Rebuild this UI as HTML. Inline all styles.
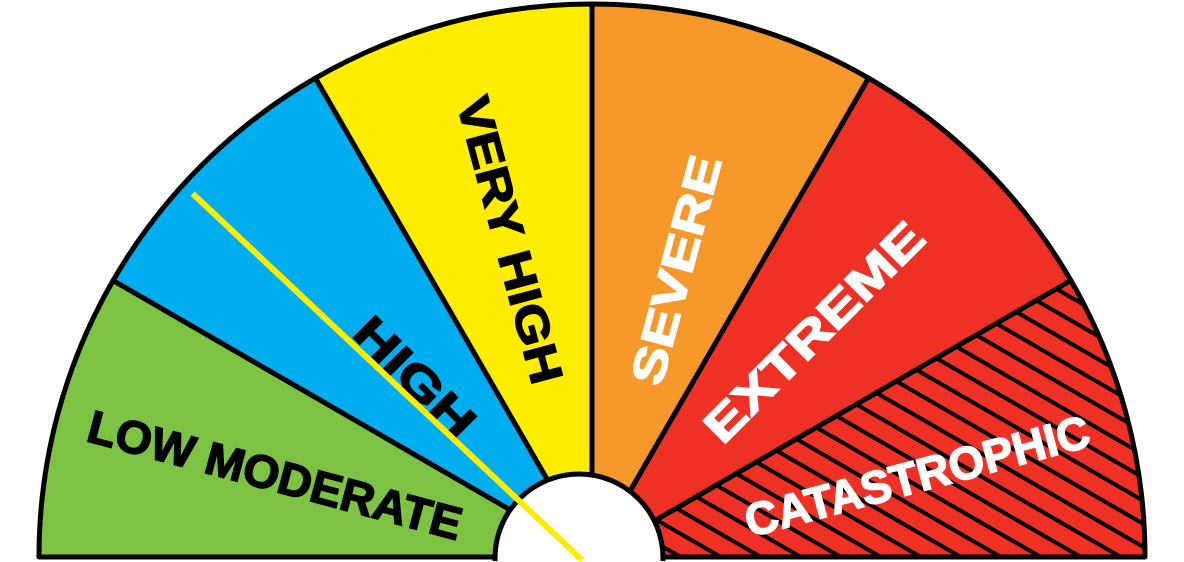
<!DOCTYPE html>
<html><head><meta charset="utf-8"><style>
html,body{margin:0;padding:0;background:#fff;width:1184px;height:562px;overflow:hidden}
svg{display:block}
text{font-family:"Liberation Sans",sans-serif;font-weight:bold}
</style></head><body>
<svg id="g" width="1184" height="562" viewBox="0 0 1184 562">
<defs>
<pattern id="hatch" patternUnits="userSpaceOnUse" width="20" height="20" patternTransform="rotate(30)">
<rect width="20" height="20" fill="#ee3124"/>
<rect y="0" width="20" height="4" fill="#000"/>
</pattern>
<clipPath id="frame"><rect x="0" y="0" width="1184" height="561"/></clipPath>
</defs>
<g id="root" clip-path="url(#frame)"></g>
</svg>
<script>
const levels=["LOW MODERATE","HIGH","VERY HIGH","SEVERE","EXTREME","CATASTROPHIC"];
const colors=["#7dc242","#00aeef","#ffed00","#f7992a","#ee3124","url(#hatch)"];
const textColors=["#000","#000","#000","#fff","#fff","#fff"];
const labelCenters=[[275,475],[415,377],[510,240],[676,270],[814,332],[917,476]];
const labelLengths=[385,150,295,235,290,355];
const needleValue=1.41;
const svg=document.getElementById('root');
const NS="http://www.w3.org/2000/svg";
const cx=592,cy=557,R=553,n=levels.length;
function ang(v){return Math.PI-(v/n)*Math.PI;}
function pt(v,r){const a=ang(v);return [cx+r*Math.cos(a),cy-r*Math.sin(a)];}
for(let i=0;i<n;i++){
  const p0=pt(i,R),p1=pt(i+1,R);
  const p=document.createElementNS(NS,'path');
  p.setAttribute('d',`M${cx},${cy} L${p0[0]},${p0[1]} A${R},${R} 0 0 1 ${p1[0]},${p1[1]} Z`);
  p.setAttribute('fill',colors[i]);p.setAttribute('stroke','#000');p.setAttribute('stroke-width','5');p.setAttribute('stroke-linejoin','round');
  
  
  svg.appendChild(p);
}
for(let i=0;i<n;i++){
  const a=ang(i+0.5)*180/Math.PI;
  const rot=a>90?180-a:-a;
  const [x,y]=labelCenters[i];
  const t=document.createElementNS(NS,'text');
  t.setAttribute('x',x);t.setAttribute('y',y);
  t.setAttribute('text-anchor','middle');t.setAttribute('dominant-baseline','central');
  t.setAttribute('font-size','46');t.setAttribute('fill',textColors[i]);
  t.setAttribute('stroke',textColors[i]);t.setAttribute('stroke-width','1.5');
  t.setAttribute('textLength',labelLengths[i]);t.setAttribute('lengthAdjust','spacingAndGlyphs');
  t.setAttribute('transform',`rotate(${rot},${x},${y})`);
  t.textContent=levels[i];
  
  
  svg.appendChild(t);
}
const base=document.createElementNS(NS,'line');
base.setAttribute('x1',cx-R);base.setAttribute('x2',cx+R);base.setAttribute('y1',cy);base.setAttribute('y2',cy);
base.setAttribute('stroke','#000');base.setAttribute('stroke-width','5');


svg.appendChild(base);
const hub=document.createElementNS(NS,'circle');
hub.setAttribute('cx',579);hub.setAttribute('cy',558);hub.setAttribute('r',84);
hub.setAttribute('fill','#fff');hub.setAttribute('stroke','#000');hub.setAttribute('stroke-width','5');


svg.appendChild(hub);
const ne=pt(needleValue,540);
const nd=document.createElementNS(NS,'line');
nd.setAttribute('x1',582);nd.setAttribute('y1',560);nd.setAttribute('x2',ne[0]);nd.setAttribute('y2',ne[1]);
nd.setAttribute('stroke','#ffec00');nd.setAttribute('stroke-width','6');


svg.appendChild(nd);
</script>
</body></html>
